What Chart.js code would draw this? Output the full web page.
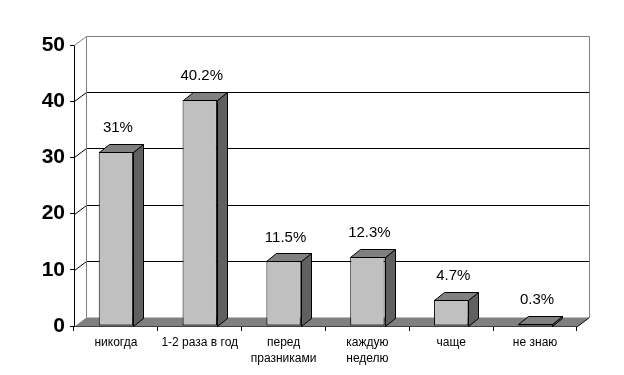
<!DOCTYPE html>
<html>
<head>
<meta charset="utf-8">
<script src="https://cdn.jsdelivr.net/npm/chart.js@4/dist/chart.umd.min.js"></script>
<style>
  html, body { margin: 0; padding: 0; background: #fff; }
</style>
</head>
<body>
<canvas id="chart" width="624" height="375"></canvas>
<script>
const categories = [['никогда'], ['1-2 раза в год'], ['перед', 'празниками'], ['каждую', 'неделю'], ['чаще'], ['не знаю']];
const values = [31, 40.2, 11.5, 12.3, 4.7, 0.3];
const valueLabels = ['31%', '40.2%', '11.5%', '12.3%', '4.7%', '0.3%'];
const yMin = 0;
const yMax = 50;
const yStep = 10;

const FONT = '"Liberation Sans", Arial, sans-serif';
// depth of the walls and of the boxes
const WALL_DX = 12, WALL_DY = 9;
const BAR_DX = 10, BAR_DY = 8;

const px = v => Math.round(v) + 0.5;

const box3d = {
    id: 'box3d',
    beforeDatasetsDraw: (chart) => {
        const { ctx, chartArea: a, scales: { y } } = chart;
        const L = px(a.left), R = px(a.right), T = px(a.top), B = px(a.bottom);
        ctx.save();
        ctx.lineWidth = 1;

        // floor
        ctx.fillStyle = '#808080';
        ctx.beginPath();
        ctx.moveTo(L, B);
        ctx.lineTo(R, B);
        ctx.lineTo(R + WALL_DX, B - WALL_DY);
        ctx.lineTo(L + WALL_DX, B - WALL_DY);
        ctx.closePath();
        ctx.fill();
        ctx.strokeStyle = '#000';
        ctx.beginPath();
        ctx.moveTo(R, B);
        ctx.lineTo(R + WALL_DX, B - WALL_DY);
        ctx.stroke();

        // gridlines on the back wall
        for (let v = yMin + yStep; v < yMax; v += yStep) {
            const yp = px(y.getPixelForValue(v));
            ctx.strokeStyle = '#000';
            ctx.beginPath();
            ctx.moveTo(L, yp);
            ctx.lineTo(L + WALL_DX, yp - WALL_DY);
            ctx.lineTo(R + WALL_DX, yp - WALL_DY);
            ctx.stroke();
        }

        // wall outline
        ctx.strokeStyle = '#808080';
        ctx.beginPath();
        ctx.moveTo(L, T);
        ctx.lineTo(L + WALL_DX, T - WALL_DY);
        ctx.lineTo(R + WALL_DX, T - WALL_DY);
        ctx.lineTo(R + WALL_DX, B - WALL_DY);
        ctx.moveTo(L + WALL_DX, T - WALL_DY);
        ctx.lineTo(L + WALL_DX, B - WALL_DY);
        ctx.stroke();
        ctx.restore();
    },
    afterDatasetsDraw: (chart) => {
        const { ctx } = chart;
        const meta = chart.getDatasetMeta(0);
        ctx.save();
        ctx.lineWidth = 1;
        ctx.strokeStyle = '#000';
        meta.data.forEach((bar, i) => {
            const p = bar.getProps(['x', 'y', 'width', 'base'], true);
            const l = px(p.x - p.width / 2), r = px(p.x + p.width / 2);
            const t = px(p.y), b = px(p.base);

            // side
            ctx.fillStyle = '#606060';
            ctx.beginPath();
            ctx.moveTo(r, t);
            ctx.lineTo(r + BAR_DX, t - BAR_DY);
            ctx.lineTo(r + BAR_DX, b - BAR_DY);
            ctx.lineTo(r, b);
            ctx.closePath();
            ctx.fill();
            ctx.stroke();

            // top
            ctx.fillStyle = '#808080';
            ctx.beginPath();
            ctx.moveTo(l, t);
            ctx.lineTo(l + BAR_DX, t - BAR_DY);
            ctx.lineTo(r + BAR_DX, t - BAR_DY);
            ctx.lineTo(r, t);
            ctx.closePath();
            ctx.fill();
            ctx.stroke();

            // value label
            ctx.fillStyle = '#000';
            ctx.font = '15px ' + FONT;
            ctx.textAlign = 'center';
            ctx.textBaseline = 'middle';
            ctx.fillText(valueLabels[i], p.x + 2, p.y - 24);
        });
        ctx.restore();
    }
};

new Chart(document.getElementById('chart'), {
    type: 'bar',
    data: {
        labels: categories,
        datasets: [{
            data: values,
            backgroundColor: '#C0C0C0',
            borderColor: '#000',
            borderWidth: 1,
            borderSkipped: false,
            categoryPercentage: 0.41,
            barPercentage: 1
        }]
    },
    options: {
        responsive: false,
        animation: false,
        layout: { padding: { top: 45, right: 47, left: 0, bottom: 0 } },
        plugins: { legend: { display: false }, tooltip: { enabled: false } },
        scales: {
            x: {
                afterFit: s => { s.height = 49; },
                grid: { drawOnChartArea: false, drawTicks: true, tickLength: 5, color: '#000' },
                border: { display: true, color: '#000' },
                ticks: {
                    autoSkip: false, maxRotation: 0, padding: 4, color: '#000',
                    font: { family: FONT, size: 12, lineHeight: 1.3 }
                }
            },
            y: {
                min: yMin,
                max: yMax,
                afterFit: s => { s.width = 74; },
                grid: { drawOnChartArea: false, drawTicks: true, tickLength: 4, color: '#000' },
                border: { display: true, color: '#000' },
                ticks: {
                    stepSize: yStep, padding: 5, color: '#000',
                    font: { family: FONT, size: 21, weight: 'bold' }
                }
            }
        }
    },
    plugins: [box3d]
});
</script>
</body>
</html>
